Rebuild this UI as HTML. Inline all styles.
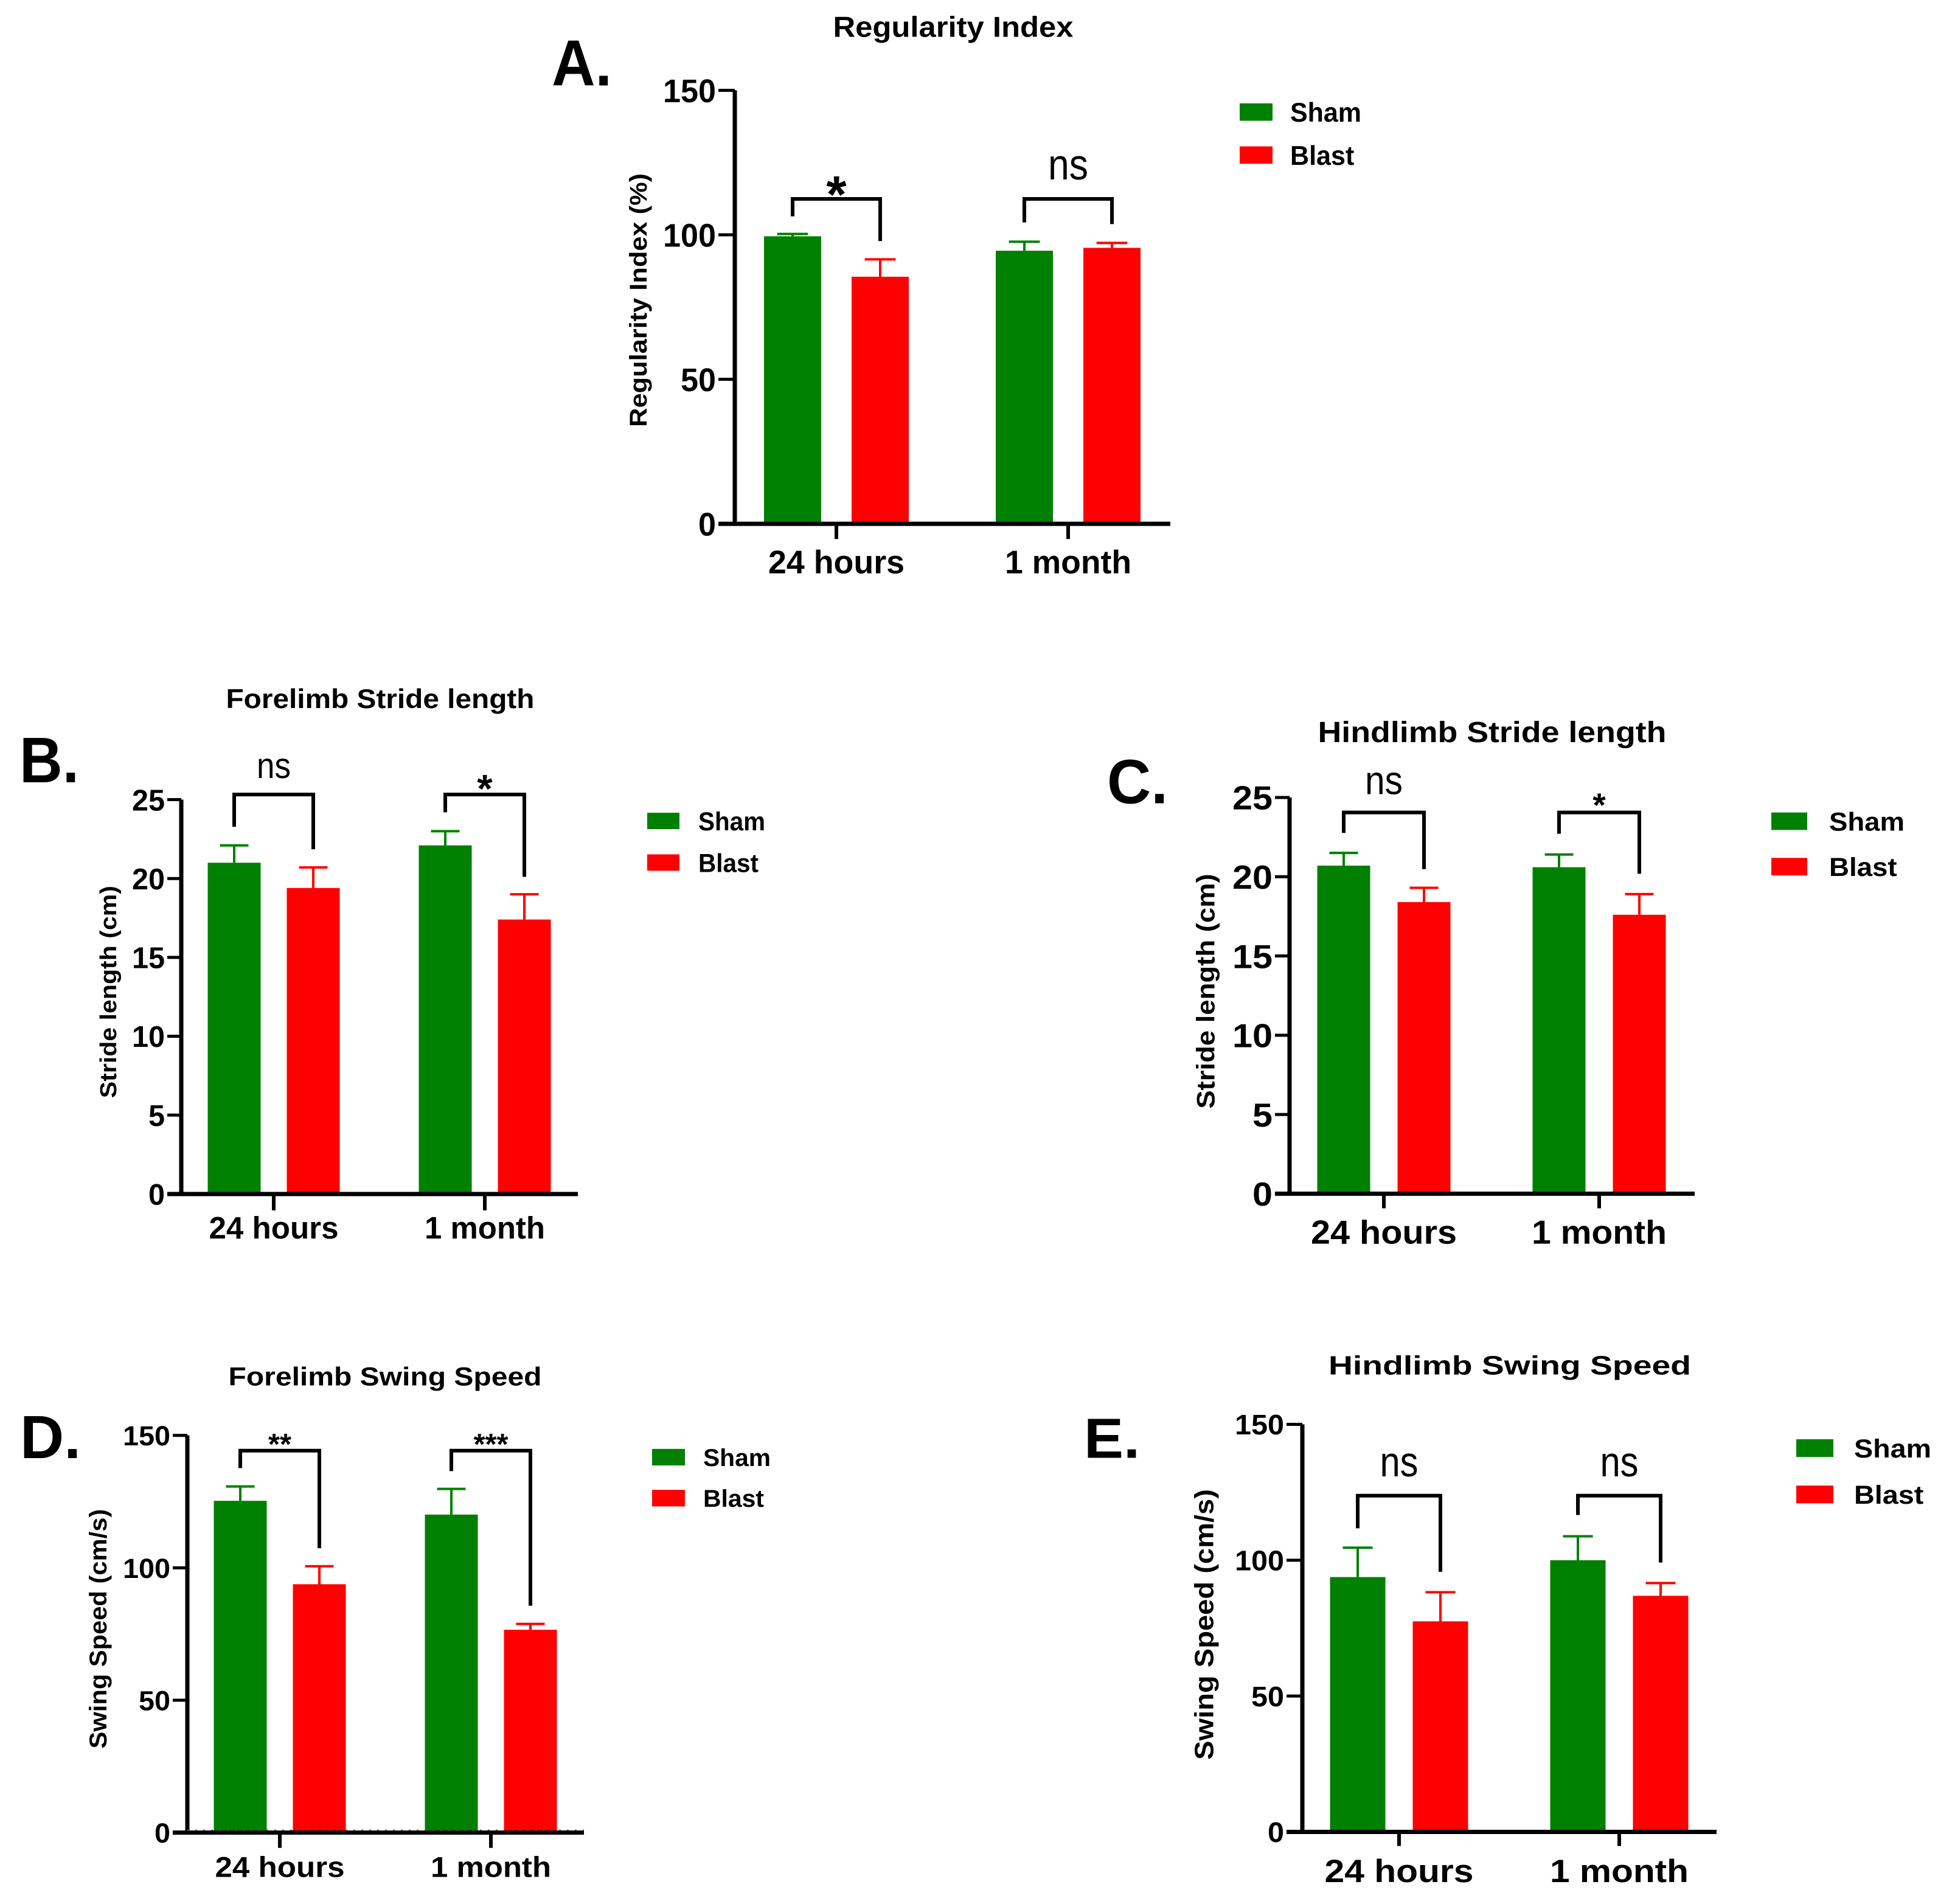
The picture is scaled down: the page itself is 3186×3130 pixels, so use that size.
<!DOCTYPE html>
<html><head><meta charset="utf-8"><style>
html,body{margin:0;padding:0;background:#fff;overflow:hidden;}
svg{display:block;font-family:"Liberation Sans",Arial,sans-serif;}
</style></head><body>
<svg id="fig" width="3186" height="3130" viewBox="0 0 3186 3130" xmlns="http://www.w3.org/2000/svg"></svg>
<script>
// ---- data ----
const categories = ["24 hours", "1 month"];
const seriesNames = ["Sham", "Blast"];
// Panel A: Regularity Index (%)
const aSham = [99.5, 94.5];
const aShamErr = [0.8, 3.1];
const aBlast = [85.5, 95.5];
const aBlastErr = [6.0, 1.7];
const aTicks = [0, 50, 100, 150];
const aSig = ["*", "ns"];
// Panel B: Forelimb stride length (cm)
const bSham = [21.0, 22.1];
const bShamErr = [1.1, 0.9];
const bBlast = [19.4, 17.4];
const bBlastErr = [1.3, 1.6];
const bTicks = [0, 5, 10, 15, 20, 25];
const bSig = ["ns", "*"];
// Panel C: Hindlimb stride length (cm)
const cSham = [20.7, 20.6];
const cShamErr = [0.8, 0.8];
const cBlast = [18.4, 17.6];
const cBlastErr = [0.9, 1.3];
const cTicks = [0, 5, 10, 15, 20, 25];
const cSig = ["ns", "*"];
// Panel D: Forelimb swing speed (cm/s)
const dSham = [125.3, 120.1];
const dShamErr = [5.4, 9.7];
const dBlast = [93.8, 76.6];
const dBlastErr = [6.8, 2.2];
const dTicks = [0, 50, 100, 150];
const dSig = ["**", "***"];
// Panel E: Hindlimb swing speed (cm/s)
const eSham = [93.8, 100.0];
const eShamErr = [10.8, 8.8];
const eBlast = [77.5, 86.9];
const eBlastErr = [10.7, 4.7];
const eTicks = [0, 50, 100, 150];
const eSig = ["ns", "ns"];

const GREEN = "#008000", RED = "#ff0000";
const NS = "http://www.w3.org/2000/svg";
const svg = document.getElementById("fig");
function mk(tag, attrs, parent, text){
  const e = document.createElementNS(NS, tag);
  for (const k in attrs) e.setAttribute(k, attrs[k]);
  if (text !== undefined) e.textContent = text;
  (parent || svg).appendChild(e);
  return e;
}

function panel(c){
  // vertical layout correction
  const k = c.k, off = c.off;
  const fy = y => off + (y - off) * k;
  ["titleY","letterY","y0","yTop","nsY","starY","xLabY","yTitleY"].forEach(f => c[f] = fy(c[f]));
  c.brackets = c.brackets.map(b => b.map(fy));
  c.legY = c.legY.map(p => p.map(fy));
  ["titleFs","letterFs","nsFs","starFs","tickFs","xFs","legFs"].forEach(f => c[f] = c[f] * k);
  c.yTitleW = c.yTitleW * k;

  const g = mk("g", {});
  
  
  const ymax = c.ticks[c.ticks.length-1];
  const Y = v => c.y0 - (v / ymax) * (c.y0 - c.yTop);
  const t = mk("text", {x:c.titleX, y:c.titleY, "text-anchor":"middle", "font-size":c.titleFs, "font-weight":"bold", textLength:c.titleW, lengthAdjust:"spacingAndGlyphs"}, g, c.title);
  
  
  const lt = mk("text", {x:c.letterX, y:c.letterY, "font-size":c.letterFs, "font-weight":"bold", textLength:c.letterW, lengthAdjust:"spacingAndGlyphs"}, g, c.letter);
  
  
  for (let i = 0; i < categories.length; i++){
    const tx = c.tickX[i];
    const sets = [[c.sham, c.shamErr, GREEN, tx - c.d, 'bar-sham'], [c.blast, c.blastErr, RED, tx + c.d, 'bar-blast']];
    for (const [vals, errs, col, cx, nm] of sets){
      const top = Y(vals[i]);
      const r = mk("rect", {x:cx - c.bw/2, y:top, width:c.bw, height:c.y0 - top, fill:col}, g);
      
      
      const et = Y(vals[i] + errs[i]);
      const eb = mk("path", {d:`M${cx},${top} V${et} M${cx - c.bw*0.27},${et} H${cx + c.bw*0.27}`, stroke:col, "stroke-width":4, fill:"none"}, g);
      
      
    }
    const b = c.brackets[i];
    const lx = tx - c.d, rx = tx + c.d;
    const br = mk("path", {d:`M${lx},${b[1]} V${b[0]} H${rx} V${b[2]}`, stroke:"#000", "stroke-width":6, fill:"none"}, g);
    
    
    const s = c.sig[i];
    const isNs = s === "ns";
    const st = mk("text", {x:tx, y:isNs ? c.nsY : c.starY, "text-anchor":"middle", "font-size":isNs ? c.nsFs : c.starFs, "font-weight":isNs ? "normal" : "bold"}, g, s);
    if (isNs) { st.setAttribute("textLength", c.nsW); st.setAttribute("lengthAdjust", "spacingAndGlyphs"); }
    
    
  }
  const ax = mk("path", {d:`M${c.ax},${c.yTop} V${c.y0} M${c.ax - c.tl},${c.y0} H${c.xRight}`, stroke:"#000", "stroke-width":7, fill:"none"}, g);
  
  
  for (const v of c.ticks){
    const y = Y(v);
    const tk = mk("line", {x1:c.ax - c.tl, x2:c.ax, y1:y, y2:y, stroke:"#000", "stroke-width":5}, g);
    
    
    const lab = String(v);
    const tl = mk("text", {x:c.ax - c.tl - 4, y:y + c.tickFs*0.36, "text-anchor":"end", "font-size":c.tickFs, "font-weight":"bold", textLength:c.digitW*lab.length, lengthAdjust:"spacingAndGlyphs"}, g, lab);
    
    
  }
  for (let i = 0; i < categories.length; i++){
    const xt = mk("line", {x1:c.tickX[i], x2:c.tickX[i], y1:c.y0, y2:c.y0 + 35*k, stroke:"#000", "stroke-width":6}, g);
    
    
    const xl = mk("text", {x:c.tickX[i], y:c.xLabY, "text-anchor":"middle", "font-size":c.xFs, "font-weight":"bold", textLength:c.xW[i], lengthAdjust:"spacingAndGlyphs"}, g, categories[i]);
    
    
  }
  const yt = mk("text", {x:0, y:0, transform:`translate(${c.yTitleX},${c.yTitleY}) rotate(-90)`, "text-anchor":"middle", "dominant-baseline":"central", "font-size":c.yTitleFs, "font-weight":"bold", textLength:c.yTitleW, lengthAdjust:"spacingAndGlyphs"}, g, c.yTitle);
  
  
  const cols = [GREEN, RED];
  for (let j = 0; j < 2; j++){
    const [y1, y2] = c.legY[j];
    const sq = mk("rect", {x:c.legX[0], y:y1, width:c.legX[1]-c.legX[0], height:y2-y1, fill:cols[j]}, g);
    
    
    const lw = c.legW * (j === 0 ? 1 : 0.9);
    const le = mk("text", {x:c.legTextX, y:(y1+y2)/2 + c.legFs*0.36, "font-size":c.legFs, "font-weight":"bold", textLength:lw, lengthAdjust:"spacingAndGlyphs"}, g, seriesNames[j]);
    
    
  }
  if (c.dotted){
    const dl = mk("line", {x1:c.ax, x2:c.xRight, y1:c.y0 - 4, y2:c.y0 - 4, stroke:"#555", "stroke-width":2, "stroke-dasharray":"3 10"}, g);
    
    
  }
}

panel({name:"panel-a-regularity-index", k:0.714, off:0, title:"Regularity Index", titleX:1567, titleY:85, titleFs:66, titleW:395,
  letter:"A.", letterX:907, letterY:197, letterFs:150, letterW:99,
  sham:aSham, shamErr:aShamErr, blast:aBlast, blastErr:aBlastErr, ticks:aTicks, sig:aSig,
  ax:1208, y0:1206, yTop:208, xRight:1924, tl:27, tickX:[1375,1756], d:72, bw:94,
  brackets:[[458,498,555],[458,512,516]], nsY:413, nsFs:100, nsW:66, starY:489, starFs:120,
  tickFs:75, digitW:29, xLabY:1320, xFs:75, xW:[224,208],
  yTitle:"Regularity Index (%)", yTitleX:1050, yTitleY:691, yTitleFs:40, yTitleW:584,
  legX:[2038,2092], legY:[[238,278],[337,377]], legTextX:2121, legFs:62, legW:117});

panel({name:"panel-b-forelimb-stride", k:0.769, off:1100, title:"Forelimb Stride length", titleX:625, titleY:1183, titleFs:58, titleW:507,
  letter:"B.", letterX:32, letterY:1342, letterFs:138, letterW:98,
  sham:bSham, shamErr:bShamErr, blast:bBlast, blastErr:bBlastErr, ticks:bTicks, sig:bSig,
  ax:298, y0:2222, yTop:1379, xRight:950, tl:23, tickX:[450,797], d:65, bw:87,
  brackets:[[1368,1437,1485],[1368,1406,1544]], nsY:1333, nsFs:77, nsW:56, starY:1385, starFs:85,
  tickFs:64, digitW:27, xLabY:2317, xFs:66, xW:[213,198],
  yTitle:"Stride length (cm)", yTitleX:179, yTitleY:1790, yTitleFs:38, yTitleW:454,
  legX:[1064,1117], legY:[[1407,1442],[1496,1531]], legTextX:1148, legFs:56, legW:110});

panel({name:"panel-c-hindlimb-stride", k:0.685, off:1150, title:"Hindlimb Stride length", titleX:2453, titleY:1252, titleFs:70, titleW:573,
  letter:"C.", letterX:1820, letterY:1399, letterFs:150, letterW:100,
  sham:cSham, shamErr:cShamErr, blast:cBlast, blastErr:cBlastErr, ticks:cTicks, sig:cSig,
  ax:2120, y0:2336, yTop:1385, xRight:2786, tl:24, tickX:[2275,2629], d:66, bw:87,
  brackets:[[1421,1470,1557],[1421,1472,1568]], nsY:1377, nsFs:96, nsW:62, starY:1430, starFs:80,
  tickFs:80, digitW:33, xLabY:2456, xFs:80, xW:[240,222],
  yTitle:"Stride length (cm)", yTitleX:1982, yTitleY:1850, yTitleFs:42, yTitleW:564,
  legX:[2912,2971], legY:[[1421,1463],[1530,1572]], legTextX:3007, legFs:62, legW:124});

panel({name:"panel-d-forelimb-swing", k:0.716, off:2200, title:"Forelimb Swing Speed", titleX:633, titleY:2308, titleFs:60, titleW:515,
  letter:"D.", letterX:33, letterY:2475, letterFs:140, letterW:100,
  sham:dSham, shamErr:dShamErr, blast:dBlast, blastErr:dBlastErr, ticks:dTicks, sig:dSig,
  ax:308, y0:3335, yTop:2423, xRight:960, tl:24, tickX:[460,807], d:65, bw:87,
  brackets:[[2458,2498,2682],[2458,2505,2814]], nsY:2440, nsFs:77, nsW:56, starY:2467, starFs:68,
  tickFs:64, digitW:26, xLabY:3437, xFs:66, xW:[213,198],
  yTitle:"Swing Speed (cm/s)", yTitleX:162, yTitleY:2867, yTitleFs:40, yTitleW:550,
  legX:[1072,1126], legY:[[2454,2492],[2548,2586]], legTextX:1156, legFs:56, legW:111, dotted:true});

panel({name:"panel-e-hindlimb-swing", k:0.662, off:2180, title:"Hindlimb Swing Speed", titleX:2482, titleY:2300, titleFs:66, titleW:596,
  letter:"E.", letterX:1782, letterY:2507, letterFs:140, letterW:92,
  sham:eSham, shamErr:eShamErr, blast:eBlast, blastErr:eBlastErr, ticks:eTicks, sig:eSig,
  ax:2141, y0:3436, yTop:2424, xRight:2822, tl:26, tickX:[2300,2662], d:68, bw:91,
  brackets:[[2601,2682,2790],[2601,2649,2767]], nsY:2553, nsFs:105, nsW:63, starY:2560, starFs:80,
  tickFs:70, digitW:27, xLabY:3561, xFs:80, xW:[245,228],
  yTitle:"Swing Speed (cm/s)", yTitleX:1980, yTitleY:2921, yTitleFs:44, yTitleW:672,
  legX:[2953,3014], legY:[[2461,2505],[2576,2620]], legTextX:3048, legFs:64, legW:127});
</script>
</body></html>
